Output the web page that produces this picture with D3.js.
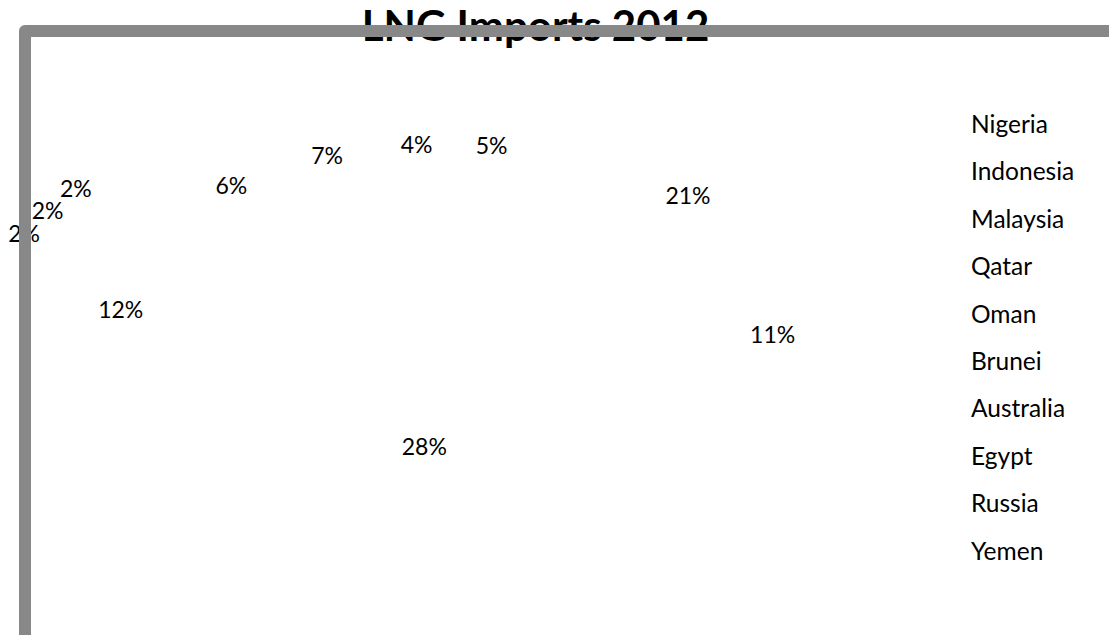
<!DOCTYPE html>
<html>
<head>
<meta charset="utf-8">
<script src="https://cdn.jsdelivr.net/npm/d3@7"></script>
<style>
  html, body { margin: 0; padding: 0; background: #ffffff; }
  svg { display: block; }
  text { font-family: Lato, "Open Sans", sans-serif; fill: #000000; }
</style>
</head>
<body>
<svg id="chart" width="1109" height="635"></svg>
<script>
// LNG import sources, 2012 (share of total, %)
const sources = ["Nigeria", "Indonesia", "Malaysia", "Qatar", "Oman", "Brunei",
                 "Australia", "Egypt", "Russia", "Yemen", ""];
const shares = [5, 21, 11, 28, 12, 2, 2, 2, 6, 7, 4];
const titleText = "LNG Imports 2012";

const W = 1109, H = 635;
const svg = d3.select("#chart");
svg.append("rect").attr("width", W).attr("height", H).attr("fill", "#ffffff");

// Tilted (3-D style) pie: horizontal radius, vertical squash and a mild
// perspective so the near side of the disc reads larger than the far side.
const pieCx = 450, pieCy = 272;
const pieRadius = 300;
const squash = 1 / 2.13;
const reachX = 322, perspX = 0.212;
const reachY = 315, perspY = 0.157;
const outsideFactor = 1.4;

const pie = d3.pie().sort(null).value(d => d)
  .startAngle(0).endAngle(2 * Math.PI);
const arcs = pie(shares);

// Slices are drawn with a plain white fill, so the disc itself stays unseen
const arc = d3.arc().innerRadius(0).outerRadius(pieRadius);
svg.append("g")
  .attr("transform", `translate(${pieCx},${pieCy}) scale(1,${squash})`)
  .selectAll("path")
  .data(arcs)
  .join("path")
  .attr("d", arc)
  .attr("fill", "#ffffff")
  .attr("stroke", "none");

// Percentage labels along each slice's mid-angle; thin slices sit outside
const total = d3.sum(shares);
const fmt = d3.format(".0%");
function labelPos(a) {
  const mid = (a.startAngle + a.endAngle) / 2;
  const k = a.value / total < 0.03 ? outsideFactor : 1;
  const s = Math.sin(mid), c = Math.cos(mid);
  return [
    pieCx + k * reachX * s / (1 + perspX * c),
    pieCy - k * reachY * squash * c / (1 + perspY * c)
  ];
}
svg.append("g")
  .selectAll("text")
  .data(arcs)
  .join("text")
  .attr("x", d => labelPos(d)[0])
  .attr("y", d => labelPos(d)[1])
  .attr("dy", "0.35em")
  .attr("text-anchor", "middle")
  .attr("font-size", 23)
  .text(d => fmt(d.value / total));

// Legend (text only; the keys share the slices' white fill)
const legendY = d3.scalePoint().domain(d3.range(sources.length)).range([133, 607]);
const legend = svg.append("g");
legend.selectAll("rect")
  .data(sources)
  .join("rect")
  .attr("x", 952).attr("y", (d, i) => legendY(i) - 14)
  .attr("width", 12).attr("height", 12)
  .attr("fill", "#ffffff");
legend.selectAll("text")
  .data(sources)
  .join("text")
  .attr("x", 971)
  .attr("y", (d, i) => legendY(i))
  .attr("font-size", 24.5)
  .text(d => d);

// Title, then the chart-area border which is drawn over it
svg.append("text")
  .attr("x", 535.5).attr("y", 40.7)
  .attr("text-anchor", "middle")
  .attr("font-size", 42)
  .attr("font-weight", "bold")
  .text(titleText);

svg.append("rect")
  .attr("x", 25).attr("y", 31)
  .attr("width", W + 40).attr("height", H + 40)
  .attr("fill", "none")
  .attr("stroke", "#888888")
  .attr("stroke-width", 12)
  .attr("stroke-linejoin", "round");
</script>
</body>
</html>
